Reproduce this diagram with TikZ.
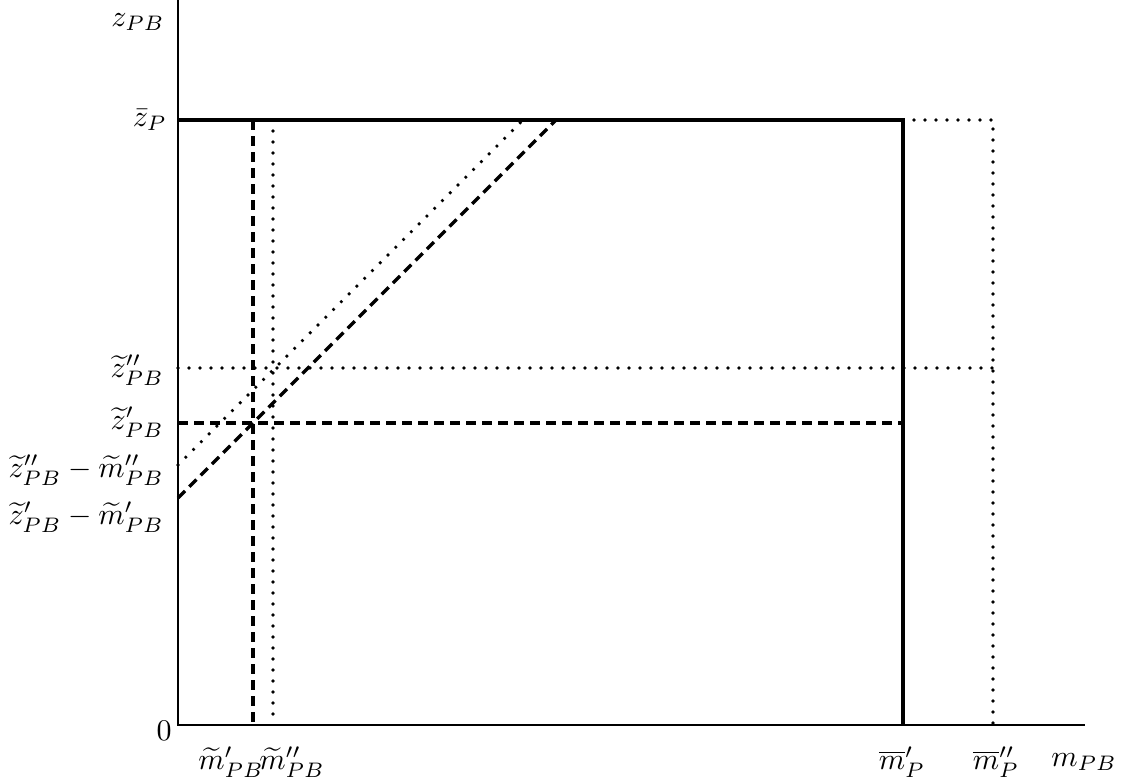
\documentclass[tikz,border=0pt]{standalone}
\newcommand{\mylbl}[1]{\scalebox{3}{$#1$}}
\begin{document}
\begin{tikzpicture}[x=1pt,y=-1pt,
  lab/.style={inner sep=0pt},
  axisline/.style={line width=1.2pt},
  solidthick/.style={line width=3.2pt},
  dashthick/.style={line width=3.2pt, dash pattern=on 10pt off 6pt},
  dotthick/.style={line width=3.6pt, line cap=round, dash pattern=on 0pt off 11pt}]
\useasboundingbox (0,0) rectangle (1125,784);
% axes
\coordinate (ytop) at (178,0);
\coordinate (O) at (178,725);
\coordinate (xend) at (1085,725);
\draw[axisline] (ytop) -- (O) -- (xend);
% key points
\coordinate (zb0) at (178,120);
\coordinate (zb1) at (903,120);
\coordinate (m1b) at (903,725);
\coordinate (zb2) at (993,120);
\coordinate (m2b) at (993,725);
\coordinate (v1t) at (253,120);
\coordinate (v1b) at (253,725);
\coordinate (v2t) at (273,120);
\coordinate (v2b) at (273,725);
\coordinate (h2l) at (178,368);
\coordinate (h2r) at (993,368);
\coordinate (h1l) at (178,423);
\coordinate (h1r) at (903,423);
\coordinate (d1s) at (178,498);
\coordinate (d1e) at (556,120);
\coordinate (d2s) at (178,465);
\coordinate (d2e) at (523,120);
% lines
\draw[solidthick] (zb0) -- (zb1) -- (m1b);
\draw[dotthick] (zb1) -- (zb2) -- (m2b);
\draw[dashthick] (v1t) -- (v1b);
\draw[dotthick] (v2t) -- (v2b);
\draw[dotthick] (h2l) -- (h2r);
\draw[dashthick] (h1l) -- (h1r);
\draw[dashthick] (d1s) -- (d1e);
\draw[dotthick] (d2s) -- (d2e);
% labels
\node[lab] (lz) at (138,22) {\mylbl{z_{PB}}};
\node[lab, anchor=east] (lzb) at (167,120) {\mylbl{\bar{z}_P}};
\node[lab, anchor=east] (lz2) at (164,370) {\mylbl{\widetilde{z}''_{PB}}};
\node[lab, anchor=east] (lz1) at (164,422) {\mylbl{\widetilde{z}'_{PB}}};
\node[lab, anchor=east] (lzm2) at (164,470) {\mylbl{\widetilde{z}''_{PB}-\widetilde{m}''_{PB}}};
\node[lab, anchor=east] (lzm1) at (164,517) {\mylbl{\widetilde{z}'_{PB}-\widetilde{m}'_{PB}}};
\node[lab] (l0) at (164,731) {\mylbl{0}};
\node[lab] (lm1) at (231,762) {\mylbl{\widetilde{m}'_{PB}}};
\node[lab] (lm2) at (292,762) {\mylbl{\widetilde{m}''_{PB}}};
\node[lab] (lmb1) at (902,762) {\mylbl{\overline{m}'_P}};
\node[lab] (lmb2) at (996,762) {\mylbl{\overline{m}''_P}};
\node[lab] (lmx) at (1084,762) {\mylbl{m_{PB}}};
\end{tikzpicture}
\end{document}
